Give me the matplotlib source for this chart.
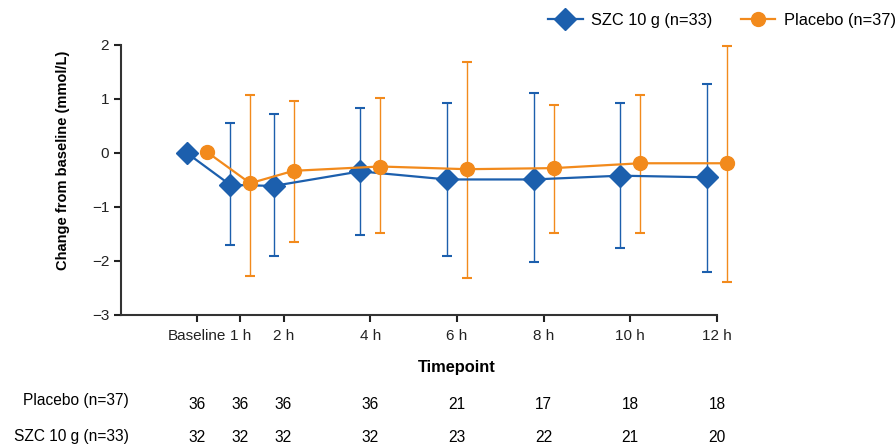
import numpy as np
import matplotlib
matplotlib.use("Agg")
import matplotlib.pyplot as plt
from matplotlib.lines import Line2D

plt.rcParams["font.family"] = ["Liberation Sans", "DejaVu Sans"]

# timepoints in hours (baseline = 0)
hours = [0, 1, 2, 4, 6, 8, 10, 12]
tick_labels = ["Baseline", "1 h", "2 h", "4 h", "6 h", "8 h", "10 h", "12 h"]

szc_mean = [0.0, -0.59, -0.61, -0.34, -0.49, -0.49, -0.42, -0.45]
szc_upper = [None, 0.55, 0.72, 0.83, 0.93, 1.12, 0.93, 1.27]
szc_lower = [None, -1.70, -1.90, -1.52, -1.90, -2.01, -1.76, -2.20]

pbo_mean = [0.02, -0.56, -0.33, -0.25, -0.30, -0.28, -0.19, -0.19]
pbo_upper = [None, 1.08, 0.97, 1.01, 1.68, 0.89, 1.08, 1.99]
pbo_lower = [None, -2.27, -1.64, -1.48, -2.31, -1.48, -1.48, -2.38]

pbo_n = [36, 36, 36, 36, 21, 17, 18, 18]
szc_n = [32, 32, 32, 32, 23, 22, 21, 20]

blue = "#1c5fad"
orange = "#f28a1c"
shift = 0.23


def draw_series(ax, mean, upper, lower, offset, color, marker, ms):
    x = np.array(hours, dtype=float) + offset
    for xi, m, up, lo in zip(x, mean, upper, lower):
        if up is None:
            continue
        eb = ax.errorbar([xi], [m], yerr=[[m - lo], [up - m]], fmt="none",
                         ecolor=color, elinewidth=1.0, capsize=3.7, capthick=1.5,
                         zorder=2)
        for art in eb.get_children():
            art.set_clip_on(False)
    ax.plot(x, mean, color=color, lw=1.6, marker=marker, ms=ms,
            markerfacecolor=color, markeredgecolor=color, zorder=3, clip_on=False)


fig = plt.figure(figsize=(8.96, 4.47), dpi=100)
ax = fig.add_axes([121 / 896, 1 - 315 / 447, (717 - 121) / 896, 270 / 447])

draw_series(ax, szc_mean, szc_upper, szc_lower, -shift, blue, "D", 11)
draw_series(ax, pbo_mean, pbo_upper, pbo_lower, shift, orange, "o", 10)

ax.set_xlim(-1.75, 12)
ax.set_ylim(-3, 2)
ax.set_yticks([-3, -2, -1, 0, 1, 2])
ax.set_yticklabels(["\u22123", "\u22122", "\u22121", "0", "1", "2"])
ax.set_xticks(hours)
ax.set_xticklabels(tick_labels)
ax.tick_params(axis="both", direction="out", length=5, width=1.5,
               labelsize=11, colors="#222222")
ax.tick_params(axis="x", pad=5)
for side in ("top", "right"):
    ax.spines[side].set_visible(False)
for side in ("left", "bottom"):
    ax.spines[side].set_linewidth(1.5)
    ax.spines[side].set_color("#333333")

ax.set_ylabel("Change from baseline (mmol/L)", fontsize=10.5, fontweight="bold")
ax.yaxis.set_label_coords(-0.085, 0.574)
ax.set_xlabel("Timepoint", fontsize=11.8, fontweight="bold")
ax.xaxis.set_label_coords((6 + 1.75) / 13.75, -0.168)

# numbers at risk below axis
for xi, p, s in zip(hours, pbo_n, szc_n):
    ax.text(xi, -0.33, str(p), transform=ax.get_xaxis_transform(),
            ha="center", va="center", fontsize=11.2)
    ax.text(xi, -0.455, str(s), transform=ax.get_xaxis_transform(),
            ha="center", va="center", fontsize=11.2)
fig.text(129 / 896, 1 - 401 / 447, "Placebo (n=37)", ha="right", va="center",
         fontsize=11.2)
fig.text(129 / 896, 1 - 436 / 447, "SZC 10 g (n=33)", ha="right", va="center",
         fontsize=11.2)

handles = [
    Line2D([], [], color=blue, marker="D", ms=11, lw=1.6, label="SZC 10 g (n=33)"),
    Line2D([], [], color=orange, marker="o", ms=10, lw=1.6, label="Placebo (n=37)"),
]
fig.legend(handles=handles, loc="upper right", bbox_to_anchor=(1.016, 1.004),
           ncol=2, frameon=False, fontsize=11.8, handlelength=2.1,
           columnspacing=1.77, handletextpad=0.5)

fig.savefig("out.png", dpi=100)
